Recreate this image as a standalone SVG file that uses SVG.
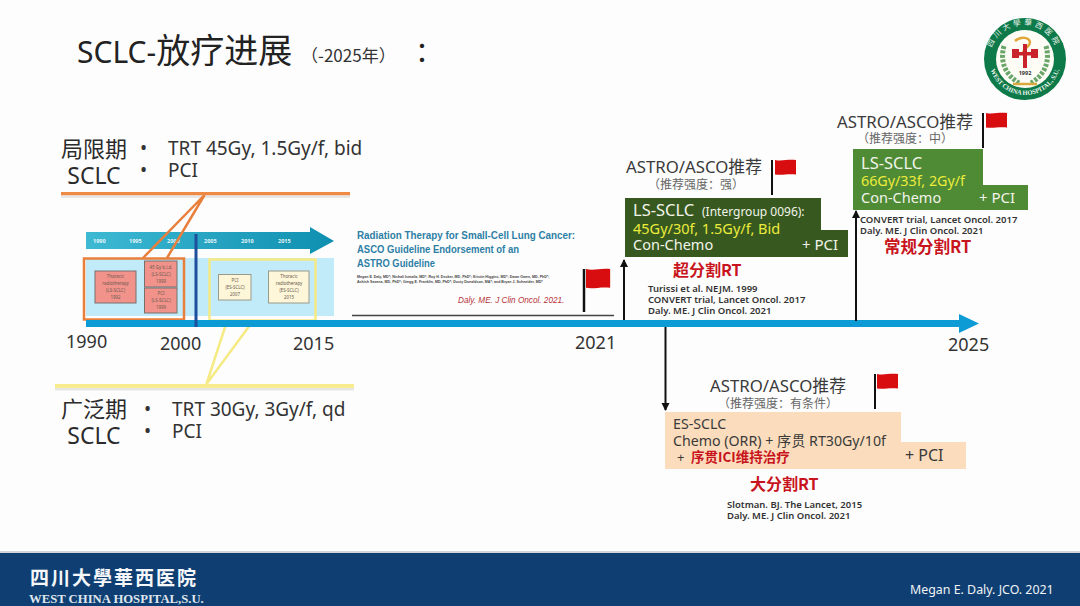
<svg xmlns="http://www.w3.org/2000/svg" width="1080" height="606" viewBox="0 0 1080 606">
<defs>
<linearGradient id="band" x1="0" x2="1" y1="0" y2="0"><stop offset="0" stop-color="#3db9d3"/><stop offset="1" stop-color="#0f8fb0"/></linearGradient>
<marker id="ah" markerWidth="9" markerHeight="9" refX="7" refY="4" orient="auto" markerUnits="userSpaceOnUse"><path d="M0,0 L8,4 L0,8 Z" fill="#111"/></marker>
<path id="flag" d="M0,0 C7,1.500 13,-1 21,0 L21,14.500 C13,13.500 7,15.500 0,14.500 Z" fill="#d80d10"/>
<path id="logoBottom" d="M989,59 A36,36 0 0 0 1061,59" fill="none"/>
<path id="logoTop" d="M990,59 A34,34 0 0 1 1058,59" fill="none"/>
</defs>
<style>
text{font-family:"Noto Sans","Noto Sans CJK SC",sans-serif;fill:#2b2b2b}
.cjk{font-family:"Noto Sans CJK SC","Noto Sans",sans-serif}
.rec{font-size:16.800px;fill:#3a3a3a}
.sub{font-size:12px;fill:#666}
.ref{font-size:9.500px;font-weight:600;fill:#333}
.red{font-size:16px;font-weight:700;fill:#c8141c}
.w{font-size:15px;fill:#f2f4ea}
.y{font-size:14.500px;fill:#ecec3c}
.tick{font-size:5.500px;font-weight:700;fill:#e6f6fa}
.yr{font-size:18px;fill:#333}
.box{font-size:4.400px;fill:#6b5a50;text-anchor:middle}
.lab{font-size:22px;fill:#2b2b2b;text-anchor:middle}
.it{font-size:19px;fill:#333}
.t{font-weight:700;font-size:10.800px;fill:#2e7fa6;font-family:"Liberation Sans",sans-serif}
.auth{font-size:3.600px;fill:#444;font-weight:700;font-family:"Liberation Sans",sans-serif}
</style>
<rect width="1080" height="606" fill="#fdfdfd"/>

<g id="title">
<text x="77" y="63" style="fill:#222;font-size:30px">SCLC-<tspan style="font-size:34px">放疗进展</tspan></text>
<text x="301" y="62" class="cjk" style="fill:#333;font-size:17px">（-2025年）</text>
<text x="415" y="62" style="fill:#222;font-size:28px">：</text>
</g>

<g id="logo">
<circle cx="1025" cy="59" r="41" fill="#0e7a4a"/>
<circle cx="1025" cy="59" r="29" fill="#fdfdf6"/>
<path d="M1004,46 C1000,60 1004,74 1019,83 M1046,46 C1050,60 1046,74 1031,83" fill="none" stroke="#6aa56a" stroke-width="5" stroke-dasharray="3 1.500"/>
<path d="M1013,84 L1037,84" stroke="#d9a93e" stroke-width="2.500"/>
<path d="M1015,41 C1022,35 1033,38 1029,45 C1026,49 1022,50 1023,55" fill="none" stroke="#e0a63a" stroke-width="2.500"/>
<rect x="1023" y="44" width="4" height="24" fill="#c9242b"/>
<rect x="1013" y="52" width="24" height="3.500" fill="#c9242b"/>
<rect x="1012" y="49" width="7" height="9" fill="#c9242b"/>
<rect x="1031" y="49" width="7" height="9" fill="#c9242b"/>
<text x="1025" y="75" style="fill:#333;font-weight:700;font-size:5.500px" text-anchor="middle">1992</text>
<text style="fill:#eef6ee;font-size:6.500px;font-family:'Liberation Serif',serif;font-weight:700"><textPath href="#logoBottom" startOffset="50%" text-anchor="middle">WEST CHINA HOSPITAL, S.U.</textPath></text>
<text class="cjk" style="fill:#eef6ee;font-size:7.500px;letter-spacing:3px"><textPath href="#logoTop" startOffset="50%" text-anchor="middle">四川大學華西医院</textPath></text>
</g>

<g id="left-labels">
<text x="94" y="157" class="lab">局限期</text>
<text x="94" y="184" class="lab" style="font-size:23px">SCLC</text>
<rect x="61" y="192" width="289" height="3.500" fill="#ee8a45"/>
<rect x="61" y="195.500" width="289" height="2.500" fill="#e6e6e6"/>
<text x="140" y="155" class="it">•</text>
<text x="168" y="155" class="it">TRT 45Gy, 1.5Gy/f, bid</text>
<text x="140" y="177" class="it">•</text>
<text x="168" y="177" class="it">PCI</text>
<text x="94" y="417" class="lab">广泛期</text>
<text x="94" y="444" class="lab" style="font-size:23px">SCLC</text>
<rect x="55" y="384" width="299" height="4" fill="#f8ec8e"/>
<rect x="55" y="388" width="299" height="2.500" fill="#e6e6e6"/>
<text x="144" y="416" class="it">•</text>
<text x="172" y="416" class="it">TRT 30Gy, 3Gy/f, qd</text>
<text x="144" y="438" class="it">•</text>
<text x="172" y="438" class="it">PCI</text>
</g>

<g id="inset-timeline">
<rect x="86" y="258" width="248" height="58" fill="#c2ebfa"/>
<path d="M86,232 H310 V227 L334,241 L310,254 V249 H86 Z" fill="url(#band)"/>
<text x="93" y="243" class="tick">1990</text><text x="129" y="243" class="tick">1995</text><text x="167" y="243" class="tick">2000</text><text x="204" y="243" class="tick">2005</text><text x="241" y="243" class="tick">2010</text><text x="278" y="243" class="tick">2015</text>
<rect x="95" y="271" width="41" height="32" fill="#f2938b" stroke="#77716e"/>
<rect x="144.500" y="261" width="32.500" height="26" fill="#f2938b" stroke="#77716e"/>
<rect x="144.500" y="288" width="32.500" height="25" fill="#f2938b" stroke="#77716e"/>
<rect x="218.500" y="274.500" width="32.500" height="25.500" fill="#fdf6d8" stroke="#9a9a8a"/>
<rect x="268.500" y="271" width="40.500" height="32" fill="#fdf6d8" stroke="#9a9a8a"/>
<g>
<text x="115.500" y="278" class="box">Thoracic</text><text x="115.500" y="285" class="box">radiotherapy</text><text x="115.500" y="292" class="box">(LS-SCLC)</text><text x="115.500" y="299" class="box">1992</text>
<text x="161" y="269" class="box">45 Gy b.i.d.</text><text x="161" y="276" class="box">(LS-SCLC)</text><text x="161" y="283" class="box">1999</text>
<text x="161" y="295" class="box">PCI</text><text x="161" y="302" class="box">(LS-SCLC)</text><text x="161" y="309" class="box">1999</text>
<text x="235" y="282" class="box">PCI</text><text x="235" y="289" class="box">(ES-SCLC)</text><text x="235" y="296" class="box">2007</text>
<text x="289" y="278" class="box">Thoracic</text><text x="289" y="285" class="box">radiotherapy</text><text x="289" y="292" class="box">(ES-SCLC)</text><text x="289" y="299" class="box">2015</text>
</g>
<rect x="84" y="258.500" width="100" height="61" fill="none" stroke="#e8803c" stroke-width="2.500"/>
<rect x="209.500" y="259.500" width="106" height="61" fill="none" stroke="#f6ea84" stroke-width="2.500"/>
<path d="M143,258 L204.500,195 L167,258" fill="none" stroke="#e8803c" stroke-width="2.500"/>
<path d="M227,321 L206.500,384 L253,321" fill="none" stroke="#f6ea84" stroke-width="2.500"/>
</g>

<g id="paper">
<text x="357" y="239" class="t" textLength="218" lengthAdjust="spacingAndGlyphs">Radiation Therapy for Small-Cell Lung Cancer:</text>
<text x="357" y="253" class="t" textLength="162" lengthAdjust="spacingAndGlyphs">ASCO Guideline Endorsement of an</text>
<text x="357" y="267" class="t" textLength="78" lengthAdjust="spacingAndGlyphs">ASTRO Guideline</text>
<text x="357" y="277.500" class="auth">Megan E. Daly, MD*; Nishali Ismaila, MD*; Roy H. Decker, MD, PhD*; Kristin Higgins, MD*; Dawn Owen, MD, PhD*;</text>
<text x="357" y="283" class="auth">Ashish Saxena, MD, PhD*; Gregg E. Franklin, MD, PhD*; Dusty Donaldson, MA*; and Bryan J. Schneider, MD*</text>
<text x="458" y="303" style="font-family:'Liberation Sans',sans-serif;font-style:italic;fill:#b8323a;font-size:8.200px">Daly. ME. J Clin Oncol. 2021.</text>
<line x1="352" y1="315.500" x2="614" y2="315.500" stroke="#444" stroke-width="1.500"/>
</g>

<g id="connectors">
<path d="M86,320 H959 V314 L979,323.500 L959,333 V327 H86 Z" fill="#0d9bd6"/>
<rect x="194.500" y="234" width="3" height="93" fill="#1d4f9c"/>
<line x1="624" y1="320" x2="624" y2="260" stroke="#111" stroke-width="2" marker-end="url(#ah)"/>
<line x1="856" y1="321" x2="856" y2="211" stroke="#111" stroke-width="2" marker-end="url(#ah)"/>
<line x1="665.500" y1="327" x2="665.500" y2="410" stroke="#111" stroke-width="2" marker-end="url(#ah)"/>
<line x1="584" y1="269" x2="584" y2="312" stroke="#111" stroke-width="2.500"/>
<line x1="772" y1="160" x2="772" y2="195" stroke="#111" stroke-width="2"/>
<line x1="983" y1="113" x2="983" y2="148" stroke="#111" stroke-width="2"/>
<line x1="875" y1="374" x2="875" y2="409" stroke="#111" stroke-width="2"/>
</g>

<g id="axis-labels">
<text x="66" y="348" class="yr">1990</text>
<text x="160" y="350" class="yr">2000</text>
<text x="293" y="350" class="yr">2015</text>
<text x="575" y="349" class="yr">2021</text>
<text x="948" y="351" class="yr">2025</text>
</g>

<g id="flags">
<use href="#flag" transform="translate(586 269) scale(1.150 1.300)"/>
<use href="#flag" x="775" y="160"/>
<use href="#flag" x="986" y="113"/>
<use href="#flag" x="877" y="374"/>
</g>

<g id="node-intergroup">
<text x="626" y="173" class="rec">ASTRO/ASCO推荐</text>
<text x="648" y="189" class="sub">（推荐强度：强）</text>
<path d="M625,198 H821 V230 H848 V257 H625 Z" fill="#37591f"/>
<text x="633" y="216" style="font-size:16.500px;fill:#f2f4ea">LS-SCLC</text>
<text x="702" y="216" style="font-size:12px;fill:#f2f4ea">(Intergroup 0096):</text>
<text x="633" y="234" class="y">45Gy/30f, 1.5Gy/f, Bid</text>
<text x="633" y="250" class="w" style="font-size:14.500px">Con-Chemo</text>
<text x="802" y="250" class="w">+ PCI</text>
<text x="673" y="276" class="red cjk">超分割RT</text>
<text x="648" y="292" class="ref">Turissi et al. NEJM. 1999</text>
<text x="648" y="303" class="ref">CONVERT trial, Lancet Oncol. 2017</text>
<text x="648" y="314" class="ref">Daly. ME. J Clin Oncol. 2021</text>
</g>

<g id="node-convert">
<text x="837" y="128" class="rec">ASTRO/ASCO推荐</text>
<text x="857" y="143" class="sub">（推荐强度：中）</text>
<path d="M853,149 H983 V185 H1028 V210 H853 Z" fill="#4f8a35"/>
<text x="861" y="169" class="w" style="font-size:16.500px">LS-SCLC</text>
<text x="861" y="186" class="y" style="font-size:14.300px">66Gy/33f, 2Gy/f</text>
<text x="861" y="203" class="w" style="font-size:14.500px">Con-Chemo</text>
<text x="979" y="203" class="w">+ PCI</text>
<text x="860" y="223" class="ref">CONVERT trial, Lancet Oncol. 2017</text>
<text x="860" y="234" class="ref">Daly. ME. J Clin Oncol. 2021</text>
<text x="884" y="253" class="red cjk" style="font-size:16.500px">常规分割RT</text>
</g>

<g id="node-es">
<text x="710" y="392" class="rec">ASTRO/ASCO推荐</text>
<text x="718" y="408" class="sub">（推荐强度：有条件）</text>
<path d="M665,412 H901 V442 H966 V469 H665 Z" fill="#fbdcbc"/>
<text x="673" y="429" style="font-size:14.200px;fill:#3a3a3a">ES-SCLC</text>
<text x="673" y="446" style="font-size:14.200px;fill:#3a3a3a">Chemo (ORR) + 序贯 RT30Gy/10f</text>
<text x="677" y="462" style="font-size:13px;fill:#3a3a3a">+</text>
<text x="691" y="462" class="cjk" style="font-size:13.500px;font-weight:700;fill:#c8141c">序贯ICI维持治疗</text>
<text x="905" y="461" style="font-size:16px;fill:#3a3a3a">+ PCI</text>
<text x="750" y="490" class="red cjk">大分割RT</text>
<text x="727" y="508" class="ref">Slotman. BJ. The Lancet, 2015</text>
<text x="727" y="519" class="ref">Daly. ME. J Clin Oncol. 2021</text>
</g>

<g id="footer">
<rect y="551" width="1080" height="3" fill="#cfd5da"/>
<rect y="553" width="1080" height="53" fill="#0f3f72"/>
<text x="30" y="585" class="cjk" style="fill:#f5f7fa;font-weight:700;font-size:19px;letter-spacing:2px">四川大學華西医院</text>
<text x="29" y="603" style="font-family:'Liberation Serif',serif;font-weight:700;font-size:12.700px;fill:#dfe6ee">WEST CHINA HOSPITAL,S.U.</text>
<text x="910" y="594" style="font-size:12.400px;fill:#f0f3f6">Megan E. Daly. JCO. 2021</text>
</g>
</svg>
